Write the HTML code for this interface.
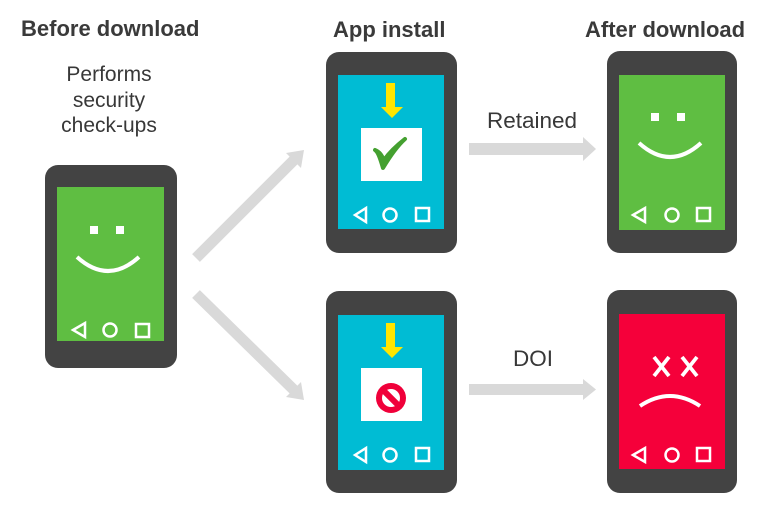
<!DOCTYPE html>
<html>
<head>
<meta charset="utf-8">
<style>
  html,body{margin:0;padding:0;background:#fff;}
  body{width:780px;height:513px;overflow:hidden;}
  svg{display:block;}
  text{font-family:"Liberation Sans",Arial,sans-serif;fill:#383838;}
  .t{font-weight:bold;font-size:22px;fill:#3a3a3a;}
  .n{font-size:21px;}
</style>
</head>
<body>
<svg width="780" height="513" viewBox="0 0 780 513" xmlns="http://www.w3.org/2000/svg">
  <!-- titles -->
  <text class="t" x="21" y="36">Before download</text>
  <text class="t" x="333" y="37">App install</text>
  <text class="t" x="585" y="37">After download</text>

  <text class="n" x="109" y="81" text-anchor="middle">Performs</text>
  <text class="n" x="109" y="107" text-anchor="middle">security</text>
  <text class="n" x="109" y="132" text-anchor="middle">check-ups</text>

  <text x="487" y="128" font-size="22.5">Retained</text>
  <text x="513" y="366" font-size="22.5">DOI</text>

  <!-- arrows -->
  <g fill="#d9d9d9">
    <line x1="196" y1="258" x2="296" y2="158" stroke="#d9d9d9" stroke-width="11"/>
    <polygon points="304,150 286,153 301,168"/>
    <line x1="196" y1="294" x2="296" y2="392" stroke="#d9d9d9" stroke-width="11"/>
    <polygon points="304,400 286,397 301,382"/>
    <rect x="469" y="143" width="116" height="12"/>
    <polygon points="583,137 596,149 583,161"/>
    <rect x="469" y="384" width="116" height="11"/>
    <polygon points="583,379 596,389.5 583,400"/>
  </g>

  <!-- Phone 1 (before) -->
  <rect x="45" y="165" width="132" height="203" rx="13" fill="#434343"/>
  <rect x="57" y="187" width="107" height="154" fill="#5fbe42"/>
  <rect x="90" y="226" width="8" height="8" fill="#fff"/>
  <rect x="116" y="226" width="8" height="8" fill="#fff"/>
  <path d="M77,257 Q108,285 139,257" stroke="#fff" stroke-width="4" fill="none"/>
  <g stroke="#fff" stroke-width="2.5" fill="none">
    <polygon points="73,330 85,323 85,337"/>
    <circle cx="110" cy="330" r="6.5"/>
    <rect x="136" y="324" width="13" height="13"/>
  </g>

  <!-- Phone 2 top (install ok) -->
  <rect x="326" y="52" width="131" height="201" rx="13" fill="#434343"/>
  <rect x="338" y="75" width="106" height="154" fill="#00bcd4"/>
  <rect x="386" y="83" width="9" height="25" fill="#ffe600"/>
  <polygon points="381,107 403,107 392,118" fill="#ffe600"/>
  <rect x="361" y="128" width="61" height="53" fill="#fff"/>
  <path d="M375,150 C378,152 380,158 383,168 C389,158 396,147 405,139 C396,146 389,153 384,160 C382,156 380,152 375,150 Z" fill="#44a030" stroke="#44a030" stroke-width="4" stroke-linejoin="round"/>
  <g stroke="#fff" stroke-width="2.5" fill="none">
    <polygon points="355,215 366,208 366,222"/>
    <circle cx="390" cy="215" r="6.5"/>
    <rect x="416" y="208" width="13" height="13"/>
  </g>

  <!-- Phone 2 bottom (install blocked) -->
  <rect x="326" y="291" width="131" height="202" rx="13" fill="#434343"/>
  <rect x="338" y="315" width="106" height="155" fill="#00bcd4"/>
  <rect x="386" y="323" width="9" height="25" fill="#ffe600"/>
  <polygon points="381,347 403,347 392,358" fill="#ffe600"/>
  <rect x="361" y="368" width="61" height="53" fill="#fff"/>
  <circle cx="391" cy="398" r="15" fill="#f0003a"/>
  <circle cx="391" cy="398" r="9" fill="#fff"/>
  <line x1="383" y1="390" x2="399" y2="406" stroke="#f0003a" stroke-width="6"/>
  <g stroke="#fff" stroke-width="2.5" fill="none">
    <polygon points="355,455 366,448 366,462"/>
    <circle cx="390" cy="455" r="6.5"/>
    <rect x="416" y="448" width="13" height="13"/>
  </g>

  <!-- Phone 3 top (happy) -->
  <rect x="607" y="51" width="130" height="202" rx="13" fill="#434343"/>
  <rect x="619" y="75" width="106" height="155" fill="#5fbe42"/>
  <rect x="651" y="113" width="8" height="8" fill="#fff"/>
  <rect x="677" y="113" width="8" height="8" fill="#fff"/>
  <path d="M639,143 Q670,171 701,143" stroke="#fff" stroke-width="4" fill="none"/>
  <g stroke="#fff" stroke-width="2.5" fill="none">
    <polygon points="633,215 645,208 645,222"/>
    <circle cx="672" cy="215" r="6.5"/>
    <rect x="697" y="208" width="13" height="13"/>
  </g>

  <!-- Phone 3 bottom (sad) -->
  <rect x="607" y="290" width="130" height="203" rx="13" fill="#434343"/>
  <rect x="619" y="314" width="106" height="155" fill="#f5003a"/>
  <g stroke="#fff" stroke-width="3.8" stroke-linecap="butt">
    <line x1="654" y1="357" x2="669" y2="376"/>
    <line x1="669" y1="357" x2="654" y2="376"/>
    <line x1="682" y1="357" x2="697" y2="376"/>
    <line x1="697" y1="357" x2="682" y2="376"/>
  </g>
  <path d="M640,406 Q670,386 700,406" stroke="#fff" stroke-width="4" fill="none"/>
  <g stroke="#fff" stroke-width="2.5" fill="none">
    <polygon points="633,455 645,448 645,462"/>
    <circle cx="672" cy="455" r="6.5"/>
    <rect x="697" y="448" width="13" height="13"/>
  </g>
</svg>
</body>
</html>
